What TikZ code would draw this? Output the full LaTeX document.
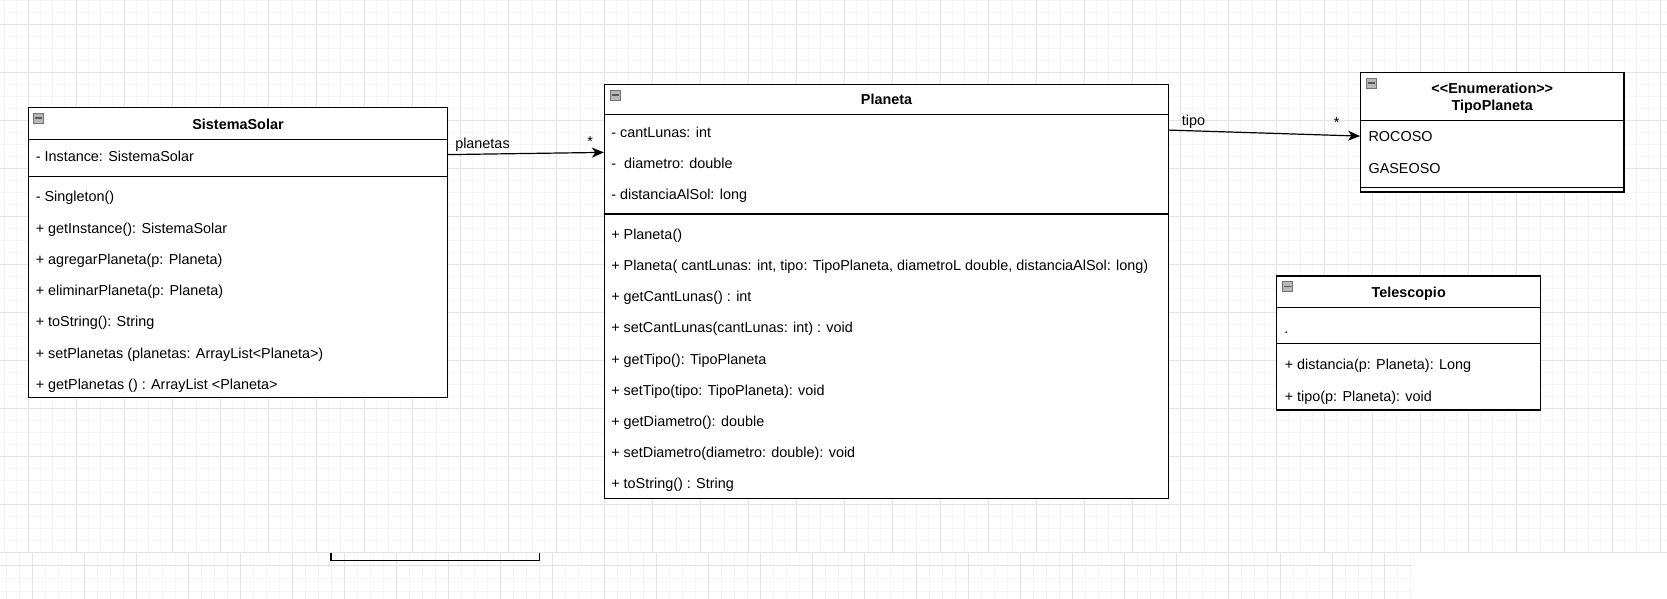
\documentclass[tikz,border=0pt]{standalone}
\usepackage{fontspec}
\setmainfont{Liberation Sans}
\usetikzlibrary{arrows.meta,calc,fit}
\begin{document}
\begin{tikzpicture}[x=0.75pt,y=-0.75pt,
  minorgrid/.style={draw=black!4, line width=0.75pt},
  majorgrid/.style={draw=black!11, line width=0.75pt},
  umlbox/.style={draw=black, line width=0.9pt, inner sep=0pt, fill=white},
  sepline/.style={draw=black, line width=0.9pt},
  row/.style={anchor=base west, inner sep=0pt, font=\fontsize{10.8pt}{13pt}\selectfont},
  ttl/.style={anchor=base, inner sep=0pt, font=\fontsize{10.8pt}{13pt}\selectfont\bfseries},
  assoc/.style={draw=black, line width=0.9pt, -{Stealth[length=9pt,width=7.5pt,inset=2.5pt]}},
  mini/.style={fill=black!28, draw=black!55, line width=0.5pt},
  miniminus/.style={draw=black!65, line width=1.1pt}
]
\useasboundingbox (0,0) rectangle (1667,599);
\fill[white] (0,0) rectangle (1667,599);
% top grid region
\foreach \x in {4.3,16.3,...,1666} \draw[minorgrid] (\x,0) -- (\x,552.3);
\foreach \y in {0.3,12.3,...,552} \draw[minorgrid] (0,\y) -- (1667,\y);
\foreach \x in {28.3,76.3,...,1666} \draw[majorgrid] (\x,0) -- (\x,552.3);
\foreach \y in {24.3,72.3,...,553} \draw[majorgrid] (0,\y) -- (1667,\y);
% bottom grid region
\foreach \x in {6.3,19.3,...,1411} \draw[minorgrid] (\x,552.3) -- (\x,599);
\foreach \y in {578,591} \draw[minorgrid] (0,\y) -- (1411.7,\y);
\foreach \x in {32.3,84.3,...,1411} \draw[majorgrid] (\x,552.3) -- (\x,599);
\draw[majorgrid] (0,565) -- (1411.7,565);
\draw[majorgrid] (0,552.3) -- (1667,552.3);

% ---------- SistemaSolar ----------
\node[umlbox, fit={(28.3,107.4) (447.6,397.6)}] (ss) {};
\draw[sepline] (28.3,139.3) -- (447.6,139.3);
\draw[sepline] (28.3,176.2) -- (447.6,176.2);
\draw[mini] (33.8,113) rectangle (43.8,123);
\draw[miniminus] (35.3,118) -- (42.3,118);
\node[ttl] (ssT) at (238,129.3) {SistemaSolar};
\node[row] (ss1) at (35.5,161.3) {- Instance: SistemaSolar};
\node[row] (ss2) at (35.5,202.0) {- Singleton()};
\node[row] (ss3) at (35.5,233.2) {+ getInstance(): SistemaSolar};
\node[row] (ss4) at (35.5,264.4) {+ agregarPlaneta(p: Planeta)};
\node[row] (ss5) at (35.5,295.6) {+ eliminarPlaneta(p: Planeta)};
\node[row] (ss6) at (35.5,326.8) {+ toString(): String};
\node[row] (ss7) at (35.5,358.0) {+ setPlanetas (planetas: ArrayList<Planeta>)};
\node[row] (ss8) at (35.5,389.2) {+ getPlanetas () : ArrayList <Planeta>};

% ---------- Planeta ----------
\node[umlbox, fit={(604.5,84.3) (1168.5,498.5)}] (pl) {};
\draw[sepline] (604.5,114.5) -- (1168.5,114.5);
\draw[sepline] (604.5,214) -- (1168.5,214);
\draw[mini] (610,90) rectangle (620,100);
\draw[miniminus] (611.5,95) -- (618.5,95);
\node[ttl] (plT) at (886.5,104.6) {Planeta};
\node[row] (pa1) at (611,137.3) {- cantLunas: int};
\node[row] (pa2) at (611,168.5) {-\ \ diametro: double};
\node[row] (pa3) at (611,199.7) {- distanciaAlSol: long};
\node[row] (pm1) at (611,239.3) {+ Planeta()};
\node[row] (pm2) at (611,270.5) {+ Planeta( cantLunas: int, tipo: TipoPlaneta, diametroL double, distanciaAlSol: long)};
\node[row] (pm3) at (611,301.7) {+ getCantLunas() : int};
\node[row] (pm4) at (611,332.9) {+ setCantLunas(cantLunas: int) : void};
\node[row] (pm5) at (611,364.1) {+ getTipo(): TipoPlaneta};
\node[row] (pm6) at (611,395.3) {+ setTipo(tipo: TipoPlaneta): void};
\node[row] (pm7) at (611,426.5) {+ getDiametro(): double};
\node[row] (pm8) at (611,457.7) {+ setDiametro(diametro: double): void};
\node[row] (pm9) at (611,488.9) {+ toString() : String};

% ---------- TipoPlaneta ----------
\node[umlbox, fit={(1360.7,72.7) (1624,192)}] (tp) {};
\draw[sepline] (1360.7,120.3) -- (1624,120.3);
\draw[sepline] (1360.7,187.3) -- (1624,187.3);
\draw[mini] (1366,78) rectangle (1376,88);
\draw[miniminus] (1367.5,83) -- (1374.5,83);
\node[ttl] (tpS) at (1492.3,93.6) {<{}<Enumeration>{}>};
\node[ttl] (tpT) at (1492.3,110.3) {TipoPlaneta};
\node[row] (tp1) at (1368.3,142.0) {ROCOSO};
\node[row] (tp2) at (1368.3,173.6) {GASEOSO};

% ---------- Telescopio ----------
\node[umlbox, fit={(1276.7,276) (1540.7,410)}] (tel) {};
\draw[sepline] (1276.7,307.3) -- (1540.7,307.3);
\draw[sepline] (1276.7,343.3) -- (1540.7,343.3);
\draw[mini] (1282,281.5) rectangle (1292,291.5);
\draw[miniminus] (1283.5,286.5) -- (1290.5,286.5);
\node[ttl] (telT) at (1408.7,297.6) {Telescopio};
\node[row] (tel0) at (1284,333.3) {.};
\node[row] (tel1) at (1284.5,369.6) {+ distancia(p: Planeta): Long};
\node[row] (tel2) at (1284.5,401.3) {+ tipo(p: Planeta): void};

% ---------- partial box at bottom ----------
\draw[draw=black, line width=1pt] (331,552.7) -- (331,560.5) -- (539.3,560.5) -- (539.3,552.7);

% ---------- associations ----------
\draw[assoc] ($(ss.north east)+(0,47.8)$) -- ($(pl.north west)+(0,68.7)$);
\node[row] (lplan) at (455,149) {planetas};
\node[row] (lstar1) at (587,146.5) {*};
\draw[assoc] ($(pl.north east)+(0,46.4)$) -- ($(tp.north west)+(0,64)$);
\node[row] (ltipo) at (1181.7,126) {tipo};
\node[row] (lstar2) at (1333.5,128) {*};
\end{tikzpicture}
\end{document}
